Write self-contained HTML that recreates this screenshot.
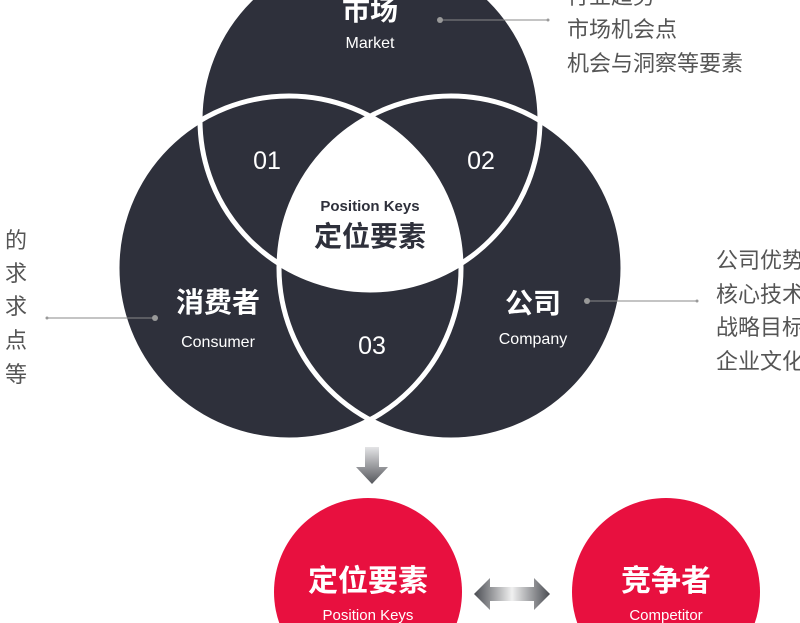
<!DOCTYPE html>
<html><head><meta charset="utf-8"><style>
html,body{margin:0;padding:0;background:#fff;width:800px;height:623px;overflow:hidden}
svg{display:block}
svg text{font-family:"Liberation Sans","Noto Sans CJK SC",sans-serif}
</style></head><body>
<svg width="800" height="623" viewBox="0 0 800 623" xmlns="http://www.w3.org/2000/svg">
<defs>
<clipPath id="cm"><circle cx="370" cy="120" r="170"/></clipPath>
<clipPath id="cc"><circle cx="289" cy="268" r="172"/></clipPath>
<linearGradient id="gv" x1="0" y1="0" x2="0" y2="1"><stop offset="0" stop-color="#e4e4e6"/><stop offset="1" stop-color="#55575c"/></linearGradient>
<linearGradient id="gh" x1="0" y1="0" x2="1" y2="0"><stop offset="0" stop-color="#4a4c52"/><stop offset="0.5" stop-color="#f0f0f0"/><stop offset="1" stop-color="#4a4c52"/></linearGradient>
</defs>
<g fill="#2e303b">
<circle cx="370" cy="120" r="170"/>
<circle cx="289" cy="268" r="172"/>
<circle cx="451" cy="268" r="172"/>
</g>
<g clip-path="url(#cm)"><g clip-path="url(#cc)"><circle cx="451" cy="268" r="172" fill="#fff"/></g></g>
<g fill="none" stroke="#fff" stroke-width="5">
<circle cx="370" cy="120" r="170"/>
<circle cx="289" cy="268" r="172"/>
<circle cx="451" cy="268" r="172"/>
</g>
<g fill="#fff" text-anchor="middle">
<text x="370" y="20" font-size="28" font-weight="bold">市场</text>
<text x="370" y="48" font-size="16">Market</text>
<text x="267" y="169" font-size="25">01</text>
<text x="481" y="169" font-size="25">02</text>
<text x="372" y="354" font-size="25">03</text>
<text x="218" y="312" font-size="28" font-weight="bold">消费者</text>
<text x="218" y="347" font-size="16">Consumer</text>
<text x="533" y="313" font-size="28" font-weight="bold">公司</text>
<text x="533" y="344" font-size="16">Company</text>
</g>
<g fill="#2e303b" text-anchor="middle">
<text x="370" y="211" font-size="15" font-weight="bold">Position Keys</text>
<text x="370" y="246" font-size="28" font-weight="bold">定位要素</text>
</g>
<g stroke="#888" stroke-width="1"><line x1="440" y1="20" x2="548" y2="20"/><line x1="587" y1="301" x2="697" y2="301"/><line x1="47" y1="318" x2="155" y2="318"/></g>
<g fill="#999"><circle cx="440" cy="20" r="3"/><circle cx="587" cy="301" r="3"/><circle cx="155" cy="318" r="3"/><circle cx="548" cy="20" r="1.5"/><circle cx="697" cy="301" r="1.5"/><circle cx="47" cy="318" r="1.5"/></g>
<g fill="#555" font-size="22">
<text x="567" y="4">行业趋势</text>
<text x="567" y="37">市场机会点</text>
<text x="567" y="71">机会与洞察等要素</text>
<text x="716" y="268">公司优势</text>
<text x="716" y="302">核心技术</text>
<text x="716" y="335">战略目标</text>
<text x="716" y="369">企业文化</text>
<g text-anchor="end">
<text x="27" y="248">的</text>
<text x="27" y="281">求</text>
<text x="27" y="314">求</text>
<text x="27" y="348">点</text>
<text x="27" y="382">等</text>
</g></g>
<polygon points="365,447 379,447 379,467 388,467 372,484 356,467 365,467" fill="url(#gv)"/>
<polygon points="474,594 490,578 490,587 534,587 534,578 550,594 534,610 534,601 490,601 490,610" fill="url(#gh)"/>
<circle cx="368" cy="592" r="94" fill="#e8103f"/>
<circle cx="666" cy="592" r="94" fill="#e8103f"/>
<g fill="#fff" text-anchor="middle">
<text x="368" y="591" font-size="30" font-weight="bold">定位要素</text>
<text x="368" y="620" font-size="15">Position Keys</text>
<text x="666" y="591" font-size="30" font-weight="bold">竞争者</text>
<text x="666" y="620" font-size="15">Competitor</text>
</g>
</svg>
</body></html>
